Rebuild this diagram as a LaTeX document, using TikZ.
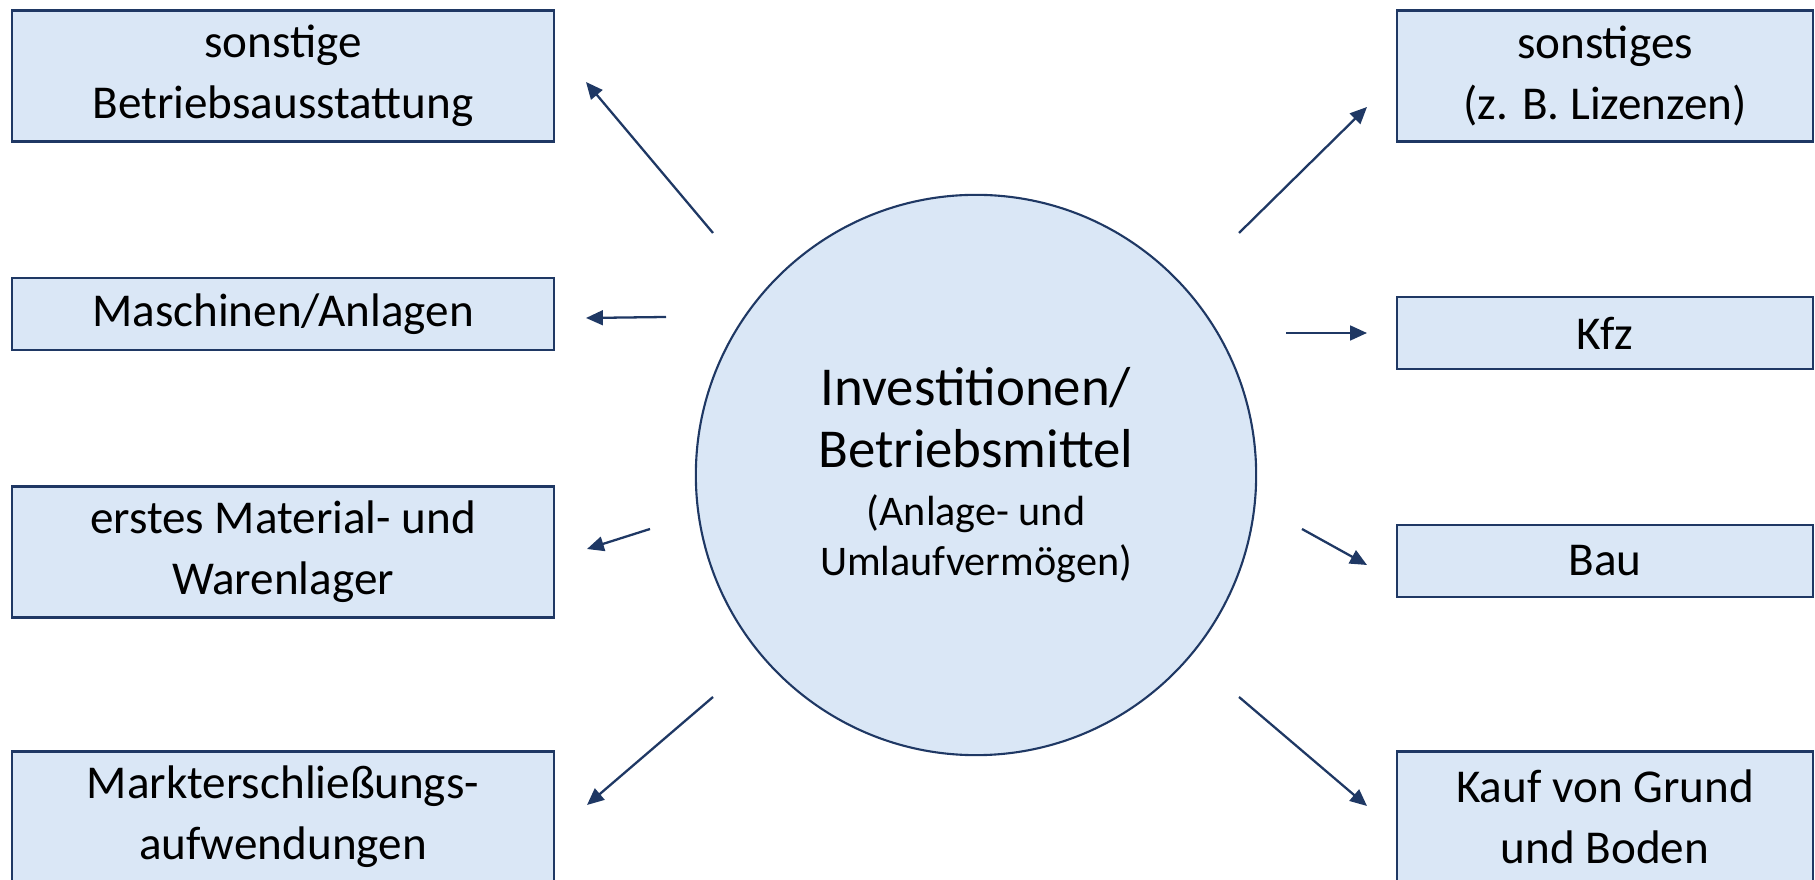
\documentclass[tikz,border=0pt]{standalone}
\usepackage{fontspec}
\setmainfont{Carlito}
\usetikzlibrary{arrows.meta,positioning}
\definecolor{boxfill}{HTML}{DAE7F6}
\definecolor{boxline}{HTML}{1F3864}
\tikzset{>={Triangle[length=4.8pt,width=4.2pt]}}
\tikzset{posten/.style={draw=boxline, fill=boxfill, line width=0.6pt, minimum width=5.42cm, minimum height=1.31cm, inner sep=0pt, align=center, font=\fontsize{13.4}{17.3}\selectfont}}
\tikzset{pfeil/.style={->, draw=boxline, line width=0.65pt}}

\begin{document}
\begin{tikzpicture}[x=0.01cm,y=-0.01cm]
      \useasboundingbox (0,0) rectangle (1815,880);
      \node[draw=boxline, fill=boxfill, line width=0.6pt, circle, minimum size=5.6cm, inner sep=0pt, align=center, font=\fontsize{12}{14.2}\selectfont] (inv) at (976,475)
        {{\fontsize{15.6}{17.6}\selectfont Investitionen/}\\[3.4pt]{\fontsize{15.6}{17.6}\selectfont Betriebsmittel}\\[2.4pt](Anlage- und\\Umlaufvermögen)};
      % links
      \node[posten] (ausst) at (283,76) {sonstige\\Betriebsausstattung};
      \node[posten, minimum height=0.72cm] (masch) at (283,314) {Maschinen/Anlagen};
      \node[posten] (lager) at (283,552) {erstes Material- und\\Warenlager};
      \node[posten] (markt) at (283,817) {Markterschließungs-\\aufwendungen};
      % rechts
      \node[posten, minimum width=4.16cm] (liz) at (1605,76) {sonstiges\\(z. B. Lizenzen)};
      \node[posten, minimum width=4.16cm, minimum height=0.72cm] (kfz) at (1605,333) {Kfz};
      \node[posten, minimum width=4.16cm, minimum height=0.72cm] (bau) at (1605,561) {Bau};
      \node[posten, minimum width=4.16cm] (grund) at (1605,817) {Kauf von Grund\\und Boden};
      % Pfeile
      \coordinate (a1) at (713,233);
      \coordinate (b1) at (586,82);
      \coordinate (a2) at (666,317);
      \coordinate (b2) at (586,318);
      \coordinate (a3) at (650,529);
      \coordinate (b3) at (587,549);
      \coordinate (a4) at (713,697);
      \coordinate (b4) at (587,805);
      \coordinate (a5) at (1239,233);
      \coordinate (b5) at (1367,107);
      \coordinate (a6) at (1286,333);
      \coordinate (b6) at (1367,333);
      \coordinate (a7) at (1302,529);
      \coordinate (b7) at (1367,565);
      \coordinate (a8) at (1239,697);
      \coordinate (b8) at (1367,806);
      \draw[pfeil] (a1) -- (b1);
      \draw[pfeil] (a2) -- (b2);
      \draw[pfeil] (a3) -- (b3);
      \draw[pfeil] (a4) -- (b4);
      \draw[pfeil] (a5) -- (b5);
      \draw[pfeil] (a6) -- (b6);
      \draw[pfeil] (a7) -- (b7);
      \draw[pfeil] (a8) -- (b8);
\end{tikzpicture}
\end{document}
